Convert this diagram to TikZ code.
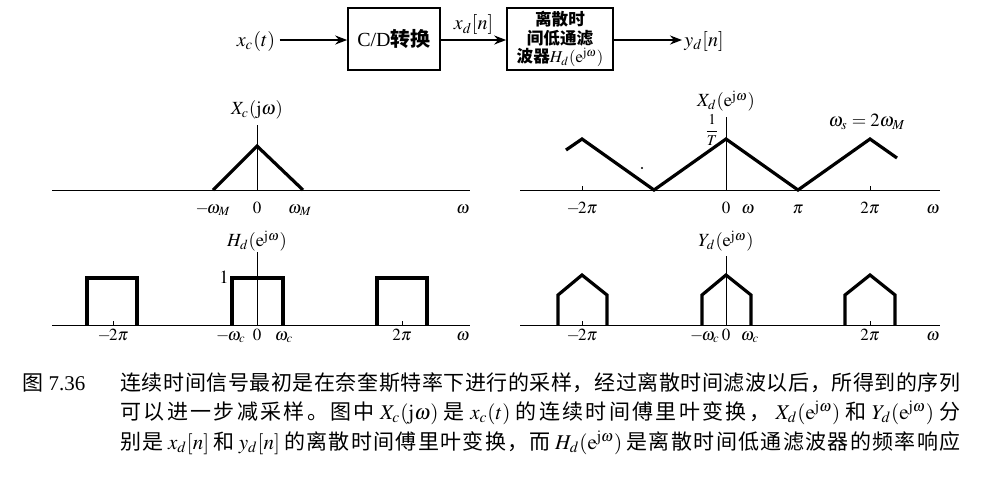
\documentclass[tikz,border=0pt]{standalone}
\usepackage{mathptmx}
\usepackage{fontspec}
\setmainfont{Liberation Serif}
\newfontfamily\cjk{Noto Sans CJK SC}
\usetikzlibrary{arrows.meta}
\ExplSyntaxOn
\NewDocumentCommand{\spreadtl}{m}{\tl_map_inline:nn {#1} {##1\hskip 0pt plus 1pt\relax}\unskip}
\ExplSyntaxOff
\newcommand{\mth}[1]{\hspace{1.5pt}$#1$\hspace{1.5pt}}
\tikzset{
  axisline/.style={line width=0.5pt},
  curve/.style={line width=1.6pt, line join=miter},
  boxnode/.style={draw, line width=0.8pt, inner sep=0pt, align=center},
  flow/.style={line width=1.3pt, -{Stealth[length=6pt,width=4.5pt]}},
  lab/.style={font=\fontsize{9.3}{11}\selectfont, inner sep=0pt},
  tick/.style={font=\fontsize{8.5}{10}\selectfont, inner sep=0pt, anchor=base},
  capline/.style={anchor=west, inner sep=0pt, font=\fontsize{10.5}{12}\selectfont}
}
\begin{document}
\begin{tikzpicture}[x=0.5pt, y=-0.5pt]
\useasboundingbox (0,0) rectangle (983,478);
% ---------------- block diagram ----------------
\node[font=\fontsize{10}{12}\selectfont, inner sep=0pt] (xc) at (256,41) {$x_c(t)$};
\node[boxnode, minimum width=46pt, minimum height=31pt, font=\fontsize{10}{12}\selectfont] (b1) at (394,39) {C/D{\cjk\bfseries 转换}};
\node[boxnode, minimum width=53pt, minimum height=31pt, font=\fontsize{8.3}{9.3}\selectfont] (b2) at (560,39)
  {{\cjk\bfseries 离散时}\\{\cjk\bfseries 间低通滤}\\{\cjk\bfseries 波器}$H_d(\mathrm{e}^{\mathrm{j}\omega})$};
\node[font=\fontsize{10}{12}\selectfont, inner sep=0pt] (yd) at (704,41) {$y_d[n]$};
\draw[flow] (xc.east)++(4,-1) coordinate (xs) (xs) -- (b1.west |- xs);
\draw[flow] (b1.east |- xs) -- (b2.west |- xs) node[midway, above=2pt, font=\fontsize{10}{12}\selectfont, inner sep=0pt] (xdn) {$x_d[n]$};
\draw[flow] (b2.east |- xs) -- ([xshift=-1pt]yd.west |- xs);
% ---------------- plot 1: Xc(jw) ----------------
\draw[axisline] (52,190) -- (470,190);
\draw[axisline] (257,125) -- (257,190);
\draw[curve] (213,190) -- (257,146) -- (303,190);
\node[lab] (p1t) at (257,110) {$X_c(\mathrm{j}\omega)$};
\node[tick] (p1a) at (213,213) {$-\!\omega_M$};
\node[tick] (p1b) at (257,213) {$0$};
\node[tick] (p1c) at (300,213) {$\omega_M$};
\node[tick] (p1d) at (463,213) {$\omega$};
% ---------------- plot 2: Xd(e^jw) ----------------
\draw[axisline] (520,190) -- (940,190);
\draw[axisline] (726,117) -- (726,190);
\draw[axisline] (582,186) -- (582,190);
\draw[axisline] (870,186) -- (870,190);
\draw[curve] (566,150) -- (582,139) -- (654,190) -- (726,139) -- (798,190) -- (870,139) -- (897,158);
\fill (642,168) circle (0.6pt);
\node[lab] (p2t) at (726,101) {$X_d(\mathrm{e}^{\mathrm{j}\omega})$};
\node[font=\fontsize{7.5}{8}\selectfont, inner sep=0pt] (p2T) at (712,130) {$\displaystyle\frac{1}{T}$};
\node[lab] (p2s) at (867,122) {$\omega_s=2\omega_M$};
\node[tick] (p2a) at (582,213) {$-\!2\pi$};
\node[tick] (p2b) at (726,213) {$0$};
\node[tick] (p2c) at (748,213) {$\omega$};
\node[tick] (p2d) at (798,213) {$\pi$};
\node[tick] (p2e) at (870,213) {$2\pi$};
\node[tick] (p2f) at (933,213) {$\omega$};
% ---------------- plot 3: Hd(e^jw) ----------------
\draw[axisline] (52,325) -- (470,325);
\draw[axisline] (257,252) -- (257,325);
\draw[axisline] (113,321) -- (113,325);
\draw[axisline] (402,321) -- (402,325);
\draw[curve] (87,325) -- (87,278) -- (137,278) -- (137,325);
\draw[curve] (232,325) -- (232,278) -- (283,278) -- (283,325);
\draw[curve] (377,325) -- (377,278) -- (427,278) -- (427,325);
\node[lab] (p3t) at (257,241) {$H_d(\mathrm{e}^{\mathrm{j}\omega})$};
\node[lab, anchor=east] (p3one) at (229,277) {$1$};
\node[tick] (p3a) at (113,340) {$-\!2\pi$};
\node[tick] (p3b) at (231,340) {$-\!\omega_c$};
\node[tick] (p3c) at (257,340) {$0$};
\node[tick] (p3d) at (284,340) {$\omega_c$};
\node[tick] (p3e) at (402,340) {$2\pi$};
\node[tick] (p3f) at (463,340) {$\omega$};
% ---------------- plot 4: Yd(e^jw) ----------------
\draw[axisline] (520,325) -- (940,325);
\draw[axisline] (726,256) -- (726,325);
\draw[axisline] (582,321) -- (582,325);
\draw[axisline] (870,321) -- (870,325);
\draw[curve] (558,325) -- (558,295) -- (582,275) -- (607,295) -- (607,325);
\draw[curve] (702,325) -- (702,295) -- (726,275) -- (751,295) -- (751,325);
\draw[curve] (845,325) -- (845,295) -- (870,275) -- (895,295) -- (895,325);
\node[lab] (p4t) at (726,241) {$Y_d(\mathrm{e}^{\mathrm{j}\omega})$};
\node[tick] (p4a) at (582,340) {$-\!2\pi$};
\node[tick] (p4b) at (705,340) {$-\!\omega_c$};
\node[tick] (p4c) at (726,340) {$0$};
\node[tick] (p4d) at (750,340) {$\omega_c$};
\node[tick] (p4e) at (870,340) {$2\pi$};
\node[tick] (p4f) at (933,340) {$\omega$};
% ---------------- caption ----------------
\node[capline] (cap0) at (22,383) {{\cjk 图} 7.36};
\node[capline] (cap1) at (120,383) {\hbox to 420pt{\cjk\spreadtl{连续时间信号最初是在奈奎斯特率下进行的采样，经过离散时间滤波以后，所得到的序列}}};
\node[capline] (cap2) at (120,413) {\hbox to 420pt{\cjk\spreadtl{可以进一步减采样。图中{\mth{X_c(\mathrm{j}\omega)}}是{\mth{x_c(t)}}的连续时间傅里叶变换，{\mth{X_d(\mathrm{e}^{\mathrm{j}\omega})}}和{\mth{Y_d(\mathrm{e}^{\mathrm{j}\omega})}}分}}};
\node[capline] (cap3) at (120,443) {\hbox to 420pt{\cjk\spreadtl{别是{\mth{x_d[n]}}和{\mth{y_d[n]}}的离散时间傅里叶变换，而{\mth{H_d(\mathrm{e}^{\mathrm{j}\omega})}}是离散时间低通滤波器的频率响应}}};
\end{tikzpicture}
\end{document}
